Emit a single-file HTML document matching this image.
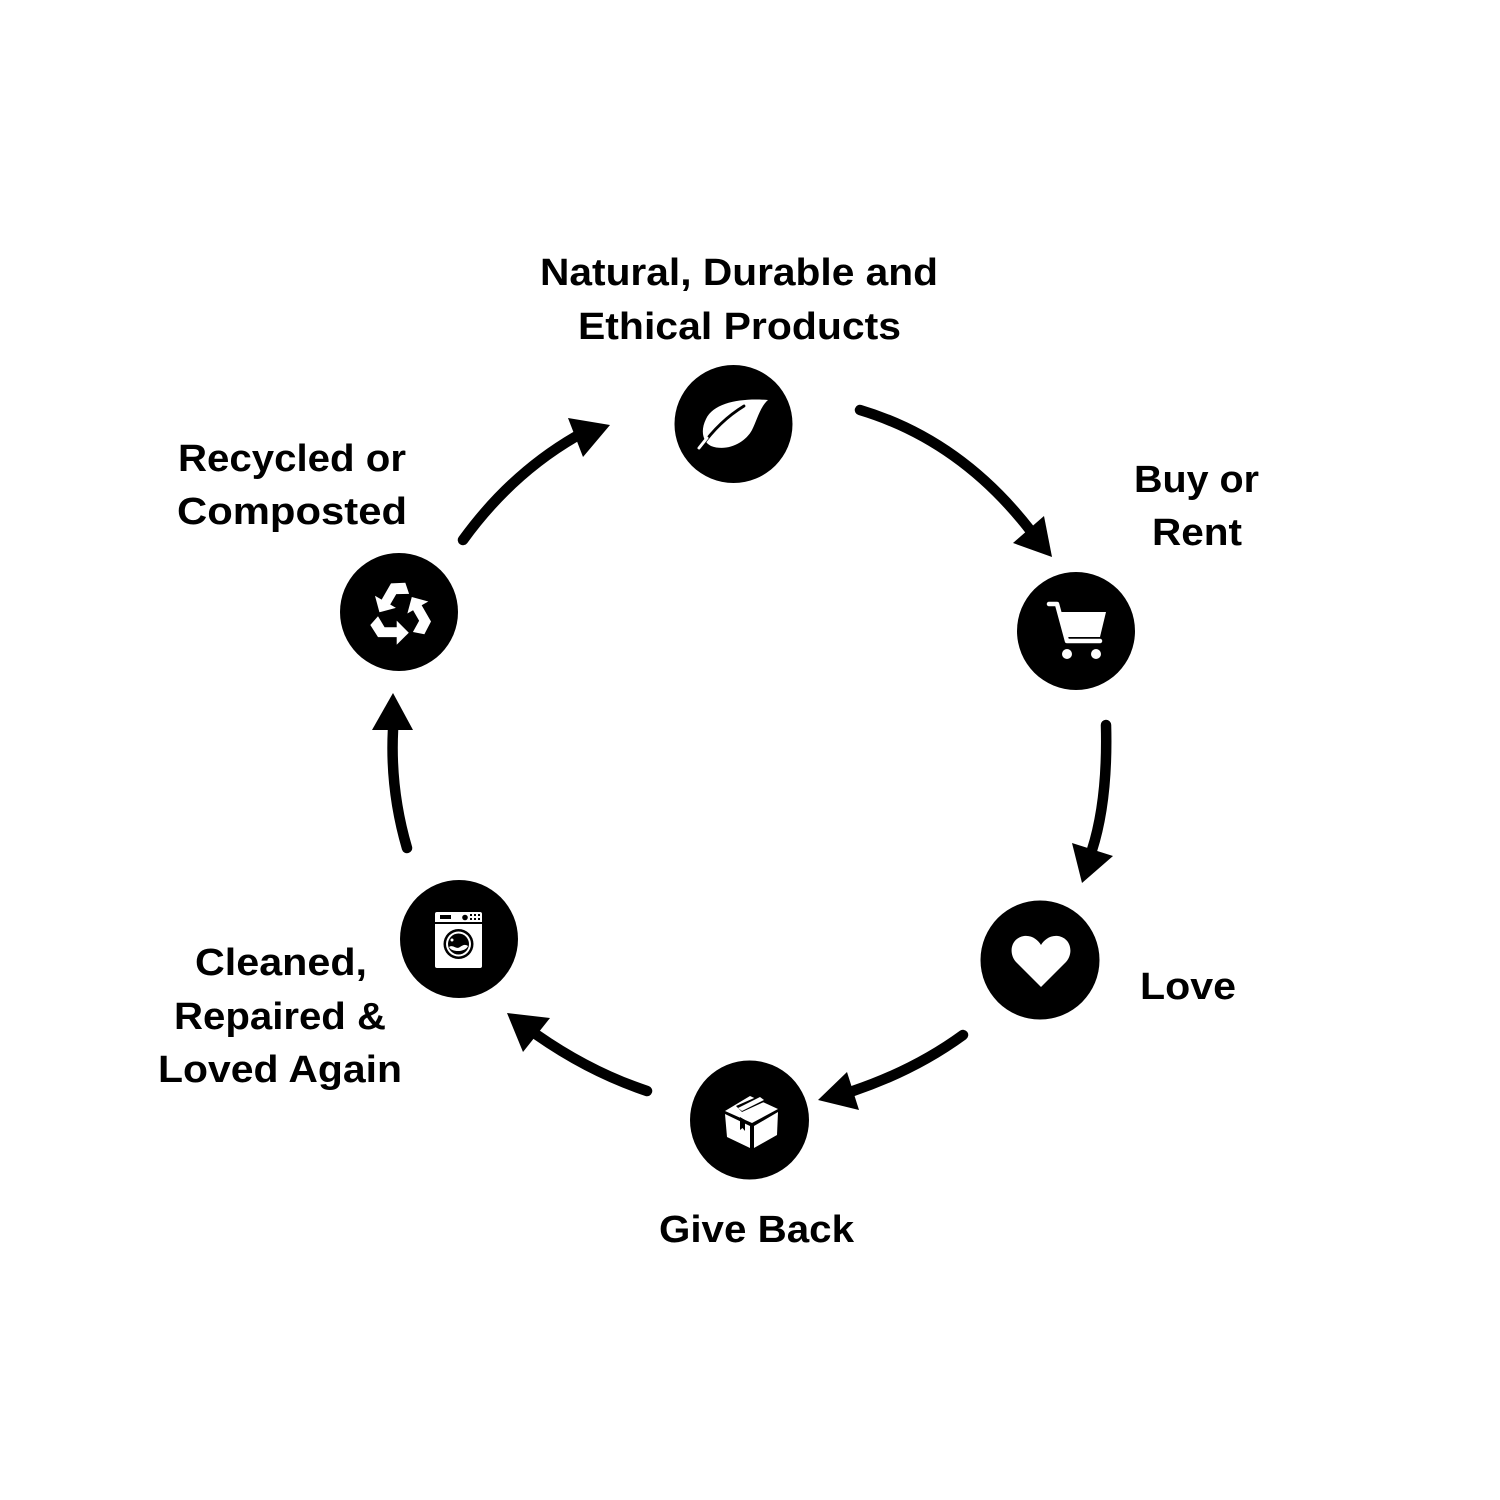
<!DOCTYPE html>
<html>
<head>
<meta charset="utf-8">
<style>
html,body{margin:0;padding:0;background:#fff;}
svg{display:block;}
text{font-family:"Liberation Sans",Arial,sans-serif;font-weight:bold;font-size:38px;fill:#000;}
</style>
</head>
<body>
<svg width="1500" height="1500" viewBox="0 0 1500 1500" xmlns="http://www.w3.org/2000/svg">
<rect width="1500" height="1500" fill="#fff"/>

<!-- Labels -->
<text x="540" y="285" textLength="398" lengthAdjust="spacingAndGlyphs">Natural, Durable and</text>
<text x="578" y="339" textLength="323" lengthAdjust="spacingAndGlyphs">Ethical Products</text>

<text x="178" y="471" textLength="228" lengthAdjust="spacingAndGlyphs">Recycled or</text>
<text x="177" y="524" textLength="230" lengthAdjust="spacingAndGlyphs">Composted</text>

<text x="1134" y="492" textLength="125" lengthAdjust="spacingAndGlyphs">Buy or</text>
<text x="1152" y="545" textLength="90" lengthAdjust="spacingAndGlyphs">Rent</text>

<text x="1140" y="999" textLength="96" lengthAdjust="spacingAndGlyphs">Love</text>

<text x="659" y="1242" textLength="195" lengthAdjust="spacingAndGlyphs">Give Back</text>

<text x="195" y="975" textLength="172" lengthAdjust="spacingAndGlyphs">Cleaned,</text>
<text x="174" y="1029" textLength="212" lengthAdjust="spacingAndGlyphs">Repaired &amp;</text>
<text x="158" y="1082" textLength="244" lengthAdjust="spacingAndGlyphs">Loved Again</text>

<!-- Arrows -->
<g fill="none" stroke="#000" stroke-width="10.5" stroke-linecap="round">
  <path d="M860,410 Q960,440 1030,530"/>
  <path d="M1106,725 Q1108,800 1092,850"/>
  <path d="M963,1035 Q915,1070 853,1091"/>
  <path d="M647,1091 Q590,1072 537,1035"/>
  <path d="M407,848 Q390,790 393,730"/>
  <path d="M463,540 Q510,475 575,437"/>
</g>
<g fill="#000">
  <polygon points="1052,557 1013,543 1044,516"/>
  <polygon points="1082,883 1072,843 1113,856"/>
  <polygon points="818,1100 847,1072 859,1110"/>
  <polygon points="507,1013 550,1018 523,1052"/>
  <polygon points="393,693 372,730 413,730"/>
  <polygon points="610,425 568,418 583,457"/>
</g>

<!-- Circles -->
<g fill="#000">
  <circle cx="733.5" cy="424" r="59"/>
  <circle cx="1076" cy="631" r="59"/>
  <circle cx="1040" cy="960" r="59.5"/>
  <circle cx="749.5" cy="1120" r="59.5"/>
  <circle cx="459" cy="939" r="59"/>
  <circle cx="399" cy="612" r="59"/>
</g>

<!-- Leaf icon -->
<g>
  <path d="M768,400 C742,398 714,402 706,419 C700,431 703,442 711,446 C727,452 745,443 752,430 C757,420 760,407 768,400 Z" fill="#fff"/>
  <path d="M701,447 C713,430 726,417 744,406" fill="none" stroke="#000" stroke-width="2.8" stroke-linecap="round"/>
  <path d="M699,448 L707,438" fill="none" stroke="#fff" stroke-width="3" stroke-linecap="round"/>
</g>

<!-- Cart icon -->
<g fill="#fff" stroke="#fff">
  <path d="M1049,604 L1057,604 L1067,641 L1100,641" fill="none" stroke-width="4.5" stroke-linecap="round" stroke-linejoin="round"/>
  <polygon points="1059,612 1106,612 1100,637 1065,637" stroke="none"/>
  <circle cx="1067" cy="654" r="5" stroke="none"/>
  <circle cx="1096" cy="654" r="5" stroke="none"/>
</g>

<!-- Heart icon -->
<path d="M1041,987 L1016,962 C1008,953 1011,938 1024,936 C1032,935 1038,940 1041,945 C1044,940 1050,935 1058,936 C1071,938 1074,953 1066,962 Z" fill="#fff"/>

<!-- Box icon -->
<g>
  <polygon points="725,1111 750,1096 778,1109 752,1123" fill="#fff"/>
  <polygon points="725,1114 750,1126 750,1148 727,1137" fill="#fff"/>
  <polygon points="754,1126 778,1112 777,1135 754,1148" fill="#fff"/>
  <polygon points="736,1106 761,1095 766,1101 742,1112" fill="#000"/>
  <polygon points="738,1108 760,1097 764,1100 742,1111" fill="#fff"/>
  <polygon points="740,1117 745,1120 745,1131 742.5,1128 740,1130" fill="#000"/>
</g>

<!-- Washer icon -->
<g>
  <rect x="435" y="912" width="47" height="56" rx="2" fill="#fff"/>
  <rect x="435" y="922" width="47" height="2" fill="#000"/>
  <rect x="440" y="915" width="11" height="4" fill="#000"/>
  <circle cx="465" cy="917.5" r="2.8" fill="#000"/>
  <g fill="#000">
    <rect x="470" y="914" width="2" height="2"/><rect x="474" y="914" width="2" height="2"/><rect x="478" y="914" width="2" height="2"/>
    <rect x="470" y="918" width="2" height="2"/><rect x="474" y="918" width="2" height="2"/><rect x="478" y="918" width="2" height="2"/>
  </g>
  <circle cx="458.5" cy="944" r="15" fill="#000"/>
  <circle cx="458.5" cy="944" r="12.5" fill="#fff"/>
  <circle cx="458.5" cy="944" r="10.5" fill="#000"/>
  <path d="M449,947 C453,944 456,950 460,947 C463,945 465,944 468,946 C466,952 452,953 449,947 Z" fill="#fff"/>
  <circle cx="452" cy="940" r="1.5" fill="#fff"/>
</g>

<!-- Recycle icon -->
<g transform="translate(400,614) scale(1.1)" fill="#fff">
  <path d="M-27,10 L-20,21 L-3,21 L-3,28 L8,17 L-3,6 L-3,12 L-14,12 L-20,2 Z"/>
  <g transform="rotate(120)"><path d="M-27,10 L-20,21 L-3,21 L-3,28 L8,17 L-3,6 L-3,12 L-14,12 L-20,2 Z"/></g>
  <g transform="rotate(240)"><path d="M-27,10 L-20,21 L-3,21 L-3,28 L8,17 L-3,6 L-3,12 L-14,12 L-20,2 Z"/></g>
</g>
</svg>
</body>
</html>
